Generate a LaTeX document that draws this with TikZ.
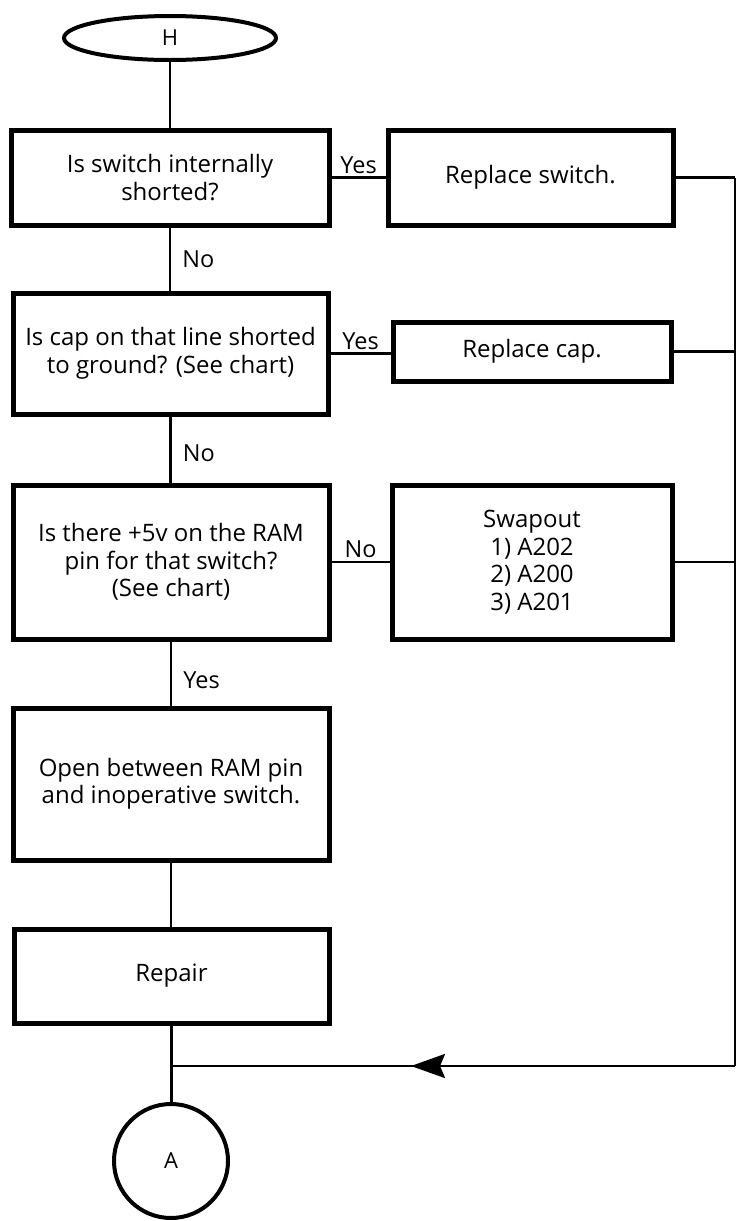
\documentclass[tikz,border=0pt]{standalone}
\usepackage{fontspec}
\setmainfont{Open Sans}
\usetikzlibrary{shapes.geometric,arrows.meta,decorations.markings}
\begin{document}
\begin{tikzpicture}[x=1pt,y=-1pt,
  box/.style={draw, line width=5pt, rectangle, align=center, inner sep=0pt,
    font=\fontsize{24}{27.5}\selectfont},
  term/.style={draw, line width=4pt, inner sep=0pt, font=\fontsize{22}{24}\selectfont},
  conn/.style={line width=2.8pt},
  railline/.style={line width=2pt},
  lbl/.style={font=\fontsize{23.5}{26}\selectfont, inner sep=3pt},
  midarrow/.style={postaction={decorate}, decoration={markings,
    mark=at position 0.575 with {\arrow{Stealth[length=34pt,width=24pt,inset=5pt]}}}}]
\useasboundingbox (0,0) rectangle (738,1221);

\node[term, ellipse, minimum width=212pt, minimum height=44pt] (h) at (170,38) {H};
\node[box, minimum width=318pt, minimum height=95pt] (b1) at (170,177.5) {Is switch internally\\shorted?};
\node[box, minimum width=285pt, minimum height=95pt] (b2) at (530.5,177.5) {Replace switch.};
\node[box, minimum width=315pt, minimum height=121pt] (b3) at (170.5,353.5) {Is cap on that line shorted\\to ground? (See chart)};
\node[box, minimum width=278pt, minimum height=59pt] (b4) at (532,351.5) {Replace cap.};
\node[box, minimum width=316pt, minimum height=154pt] (b5) at (171,562) {Is there +5v on the RAM\\pin for that switch?\\(See chart)};
\node[box, minimum width=280pt, minimum height=154pt] (b6) at (532,562) {Swapout\\1) A202\\2) A200\\3) A201};
\node[box, minimum width=316pt, minimum height=152pt] (b7) at (171,784) {Open between RAM pin\\and inoperative switch.};
\node[box, minimum width=315pt, minimum height=94pt] (b8) at (171.5,976) {Repair};
\node[term, circle, minimum size=114pt] (a) at (171,1161) {A};

\coordinate (rail) at (735,1066);

\draw[conn] (h.south) -- (h.south |- b1.north);
\draw[conn] (b1.south) -- node[lbl, right=8pt, pos=0.5] {No} (b1.south |- b3.north);
\draw[conn] (b3.south) -- node[lbl, right=8pt, pos=0.55] {No} (b3.south |- b5.north);
\draw[conn] (b5.south) -- node[lbl, right=8pt, pos=0.6] {Yes} (b5.south |- b7.north);
\draw[conn] (b7.south) -- (b7.south |- b8.north);
\draw[conn] (b8.south) -- (b8.south |- a.north);

\draw[conn] (b1.east) -- node[lbl, above, inner sep=2pt] {Yes} (b1.east -| b2.west);
\draw[conn] (b3.east) -- node[lbl, above, inner sep=2pt] {Yes} (b3.east -| b4.west);
\draw[conn] (b5.east) -- node[lbl, above, inner sep=3pt] {No} (b5.east -| b6.west);

\draw[conn] (b2.east) -- (b2.east -| rail);
\draw[conn] (b4.east) -- (b4.east -| rail);
\draw[conn] (b6.east) -- (b6.east -| rail);
\draw[railline] (b2.east -| rail) -- (rail);
\draw[conn, midarrow] (rail) -- (b8.south |- rail);
\end{tikzpicture}
\end{document}
